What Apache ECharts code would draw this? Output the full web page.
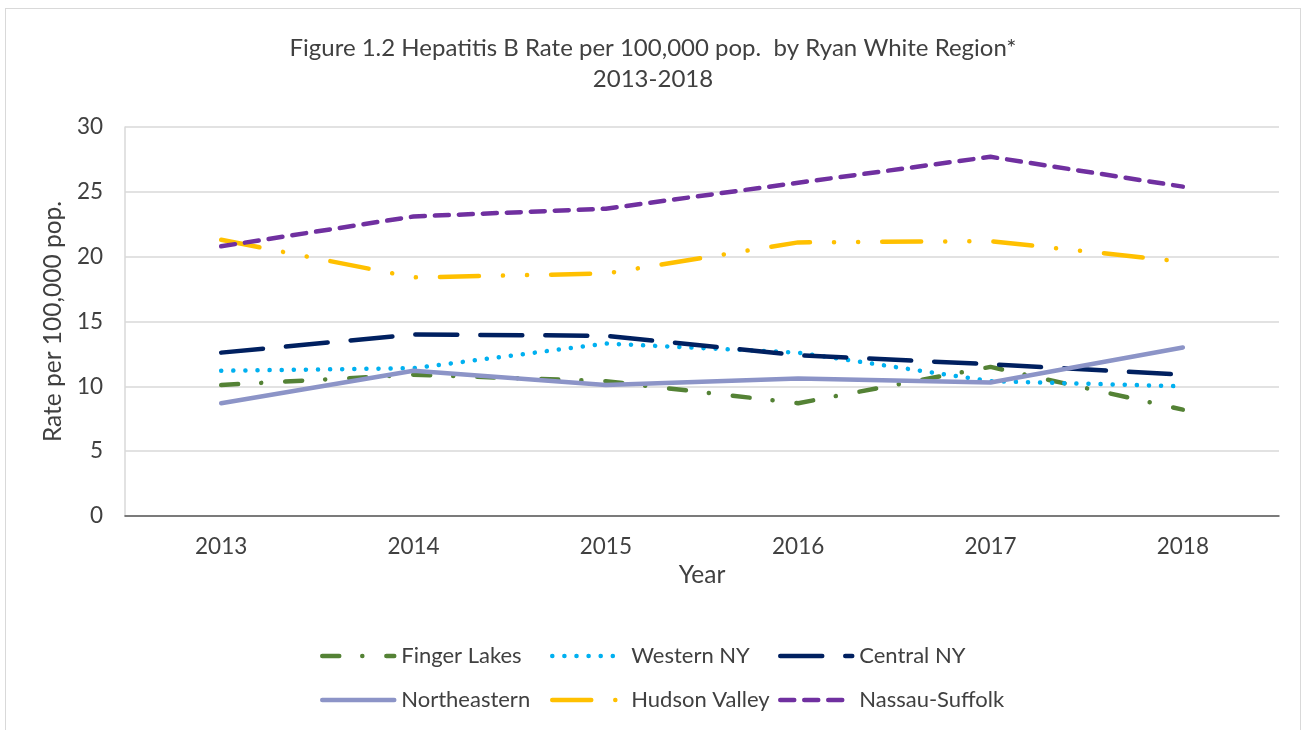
<!DOCTYPE html>
<html>
<head>
<meta charset="utf-8">
<script src="https://cdn.jsdelivr.net/npm/echarts@6/dist/echarts.min.js"></script>
<style>
  html, body { margin: 0; padding: 0; background: #fff; }
  #frame { position: absolute; left: 5px; top: 8px; width: 1294px; height: 740px; border: 1px solid #d9d9d9; }
  #chart { position: absolute; left: 0; top: 0; width: 1306px; height: 730px; }
</style>
</head>
<body>
<div id="frame"></div>
<div id="chart"></div>
<script>
// data
var years = ['2013', '2014', '2015', '2016', '2017', '2018'];
var fingerLakes   = [10.1, 10.9, 10.4, 8.7, 11.5, 8.2];
var westernNY     = [11.2, 11.4, 13.3, 12.6, 10.4, 10.0];
var centralNY     = [12.6, 14.0, 13.9, 12.4, 11.7, 10.9];
var northeastern  = [8.7, 11.2, 10.1, 10.6, 10.3, 13.0];
var hudsonValley  = [21.3, 18.4, 18.7, 21.1, 21.2, 19.6];
var nassauSuffolk = [20.8, 23.1, 23.7, 25.7, 27.7, 25.4];
var yTicks = [0, 5, 10, 15, 20, 25, 30];

var txt = '#404040';
var font = 'Lato';

// один ряд = одна линия
function mkSeries(name, data, color, dash) {
  return {
    name: name,
    type: 'line',
    data: data,
    symbol: 'none',
    smooth: false,
    lineStyle: { color: color, width: 4.5, type: dash, cap: 'round', join: 'round' },
    itemStyle: { color: color }
  };
}

function mkLegend(name, left, top) {
  return {
    data: [name],
    left: left,
    top: top,
    padding: 0,
    itemWidth: 72,
    itemHeight: 14,
    itemGap: 0,
    itemStyle: { opacity: 0 },
    lineStyle: { width: 4.5 },
    textStyle: { color: txt, fontFamily: font, fontSize: 22, padding: [0, 0, 0, 2] }
  };
}

var chart = echarts.init(document.getElementById('chart'), null, { renderer: 'canvas' });

chart.setOption({
  animation: false,
  backgroundColor: 'transparent',
  title: {
    text: 'Figure 1.2 Hepatitis B Rate per 100,000 pop.  by Ryan White Region*\n2013-2018',
    left: 'center',
    top: 28,
    textStyle: { color: txt, fontFamily: font, fontSize: 24, fontWeight: 'normal', lineHeight: 31 }
  },
  legend: [
    mkLegend('Finger Lakes', 320, 645),
    mkLegend('Western NY', 550, 645),
    mkLegend('Central NY', 778, 645),
    mkLegend('Northeastern', 320, 689),
    mkLegend('Hudson Valley', 550, 689),
    mkLegend('Nassau-Suffolk', 778, 689)
  ],
  grid: { left: 125, right: 27, top: 127, bottom: 214, containLabel: false },
  xAxis: {
    type: 'category',
    data: years,
    boundaryGap: true,
    name: 'Year',
    nameLocation: 'middle',
    nameGap: 47,
    nameTextStyle: { color: txt, fontFamily: font, fontSize: 24.5 },
    axisLine: { lineStyle: { color: '#595959', width: 1.5 } },
    axisTick: { show: false },
    axisLabel: { color: txt, fontFamily: font, fontSize: 22.5, margin: 19 }
  },
  yAxis: {
    type: 'value',
    min: yTicks[0],
    max: yTicks[yTicks.length - 1],
    interval: 5,
    name: 'Rate per 100,000 pop.',
    nameLocation: 'middle',
    nameGap: 56,
    nameTextStyle: { color: txt, fontFamily: font, fontSize: 24.5 },
    axisLine: { show: true, lineStyle: { color: '#d9d9d9', width: 1.5 } },
    axisTick: { show: false },
    axisLabel: { color: txt, fontFamily: font, fontSize: 22.5, margin: 22 },
    splitLine: { lineStyle: { color: '#d9d9d9', width: 1.5 } }
  },
  series: [
    mkSeries('Finger Lakes', fingerLakes, '#548235', [17, 23, 0.1, 24]),
    mkSeries('Western NY', westernNY, '#00b0f0', [0.1, 12]),
    mkSeries('Central NY', centralNY, '#002060', [42, 23]),
    mkSeries('Northeastern', northeastern, '#8c94c7', 'solid'),
    mkSeries('Hudson Valley', hudsonValley, '#ffc000', [39, 24, 0.1, 24, 0.1, 24]),
    mkSeries('Nassau-Suffolk', nassauSuffolk, '#7030a0', [14, 10])
  ]
});
</script>
</body>
</html>
